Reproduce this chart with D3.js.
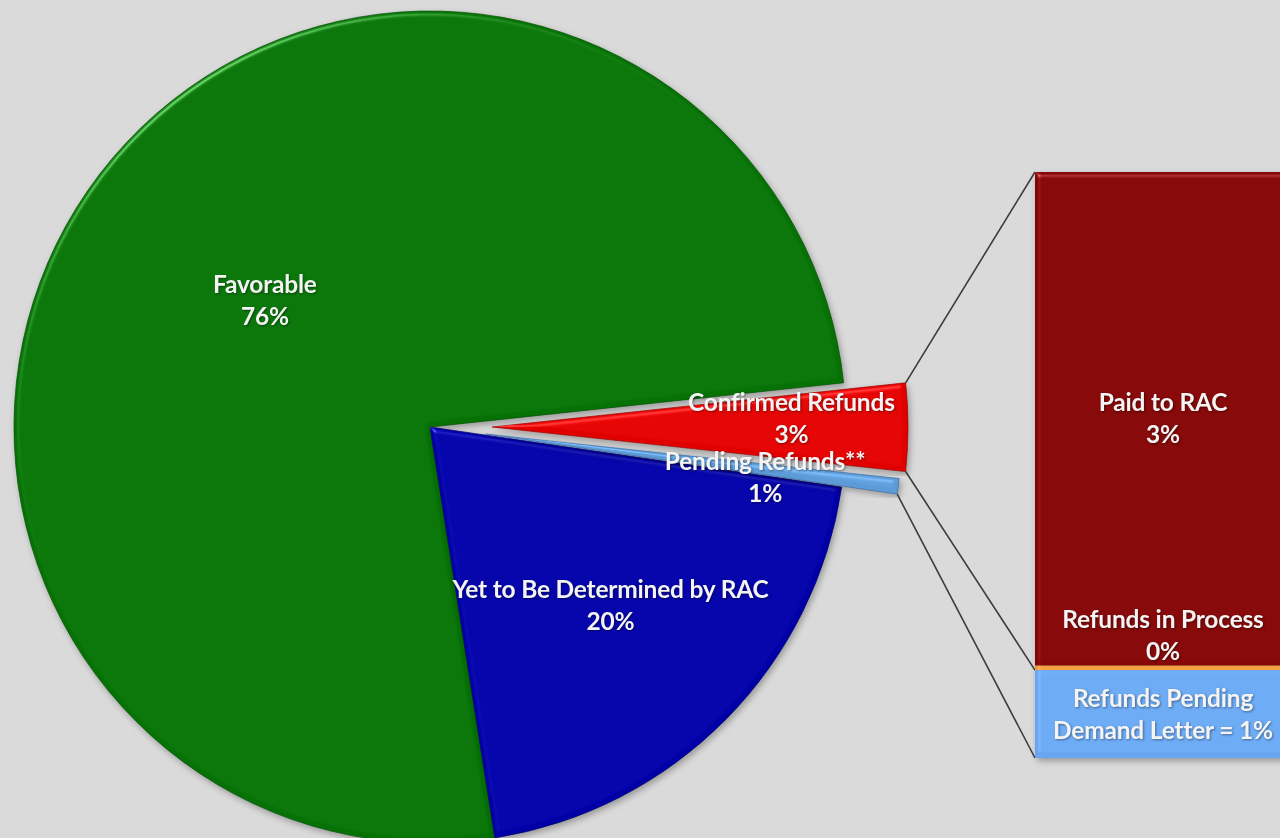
<!DOCTYPE html>
<html>
<head>
<meta charset="utf-8">
<script src="https://cdn.jsdelivr.net/npm/d3@7"></script>
<style>
  html, body { margin: 0; padding: 0; background: #dadada; }
  svg { display: block; }
  .lbl { font-family: Lato, "Open Sans", sans-serif; font-weight: 700; fill: #f4f4f4; }
</style>
</head>
<body>
<svg id="chart" width="1280" height="838"></svg>
<script>
// ---- data -------------------------------------------------------------
// Pie slices, clockwise starting at the exploded red wedge
const pieCategories = ["Confirmed Refunds", "Pending Refunds**", "Yet to Be Determined by RAC", "Favorable"];
const pieValues     = [3.4, 0.6, 20.2, 75.8];

// Breakdown bar of the two refund slices, top to bottom
const barCategories = ["Paid to RAC", "Refunds in Process", "Refunds Pending"];
const barValues     = [3.37, 0.03, 0.6];
const barLabelLines = [["Paid to RAC", "3%"], ["Refunds in Process", "0%"], ["Refunds Pending", "Demand Letter = 1%"]];

// ---- layout & style ---------------------------------------------------
const W = 1280, H = 838;
const cx = 430, cy = 427, R = 416;
const startDeg = 83.9;                       // d3 angle (from 12 o'clock) of first slice
const pieColors = ["#e00000", "#5c9ad8", "#0000a6", "#067206"];
const pieRims   = ["#a00000", "#3a6fa8", "#000070", "#035003"];
const explode   = [62, 56, 0, 0];
// label placement: fraction of radius and angular nudge (deg)
const labelFrac  = [0.72, 0.68, 0.61, 0.50];
const labelNudge = [-1.7, 1.6, 0, 0];

const barX0 = 1035, barX1 = 1292, barTop = 172, barBottom = 758;
const barColors = ["#820404", "#ea9a36", "#68a6f0"];
const lineGap = 32;
const fontSize = 24.5;

const svg = d3.select("#chart");
svg.append("rect").attr("width", W).attr("height", H).attr("fill", "#dadada");

// ---- filters ----------------------------------------------------------
const defs = svg.append("defs");
const bevel = defs.append("filter").attr("id", "bevel")
  .attr("color-interpolation-filters", "sRGB")
  .attr("x", "-5%").attr("y", "-5%").attr("width", "110%").attr("height", "110%");
bevel.append("feGaussianBlur").attr("in", "SourceAlpha").attr("stdDeviation", 2.5).attr("result", "blur");
const spec = bevel.append("feSpecularLighting").attr("in", "blur").attr("surfaceScale", 3)
  .attr("specularConstant", 0.5).attr("specularExponent", 35)
  .attr("lighting-color", "#ffffff").attr("result", "spec");
spec.append("feDistantLight").attr("azimuth", 235).attr("elevation", 45);
bevel.append("feComposite").attr("in", "spec").attr("in2", "SourceAlpha").attr("operator", "in").attr("result", "specOut");
bevel.append("feComposite").attr("in", "SourceGraphic").attr("in2", "specOut")
  .attr("operator", "arithmetic").attr("k1", 0).attr("k2", 1).attr("k3", 0.8).attr("k4", 0).attr("result", "lit");
bevel.append("feDropShadow").attr("in", "lit").attr("dx", 2).attr("dy", 3)
  .attr("stdDeviation", 3).attr("flood-color", "#000").attr("flood-opacity", 0.3);

const txtShadow = defs.append("filter").attr("id", "txtShadow")
  .attr("color-interpolation-filters", "sRGB")
  .attr("x", "-10%").attr("y", "-30%").attr("width", "120%").attr("height", "160%");
txtShadow.append("feDropShadow").attr("dx", 1).attr("dy", 1).attr("stdDeviation", 1)
  .attr("flood-color", "#000").attr("flood-opacity", 0.4);

// ---- pie --------------------------------------------------------------
const rad = Math.PI / 180;
const pie = d3.pie().sort(null).value(d => d)
  .startAngle(startDeg * rad).endAngle(startDeg * rad + 2 * Math.PI);
const arcs = pie(pieValues);
const arc = d3.arc().innerRadius(0).outerRadius(R);

function offset(a, i) {
  const mid = (a.startAngle + a.endAngle) / 2;
  return [explode[i] * Math.sin(mid), -explode[i] * Math.cos(mid)];
}
function polar(angle, r, i, a) {
  const [ox, oy] = offset(a, i);
  return [cx + ox + r * Math.sin(angle), cy + oy - r * Math.cos(angle)];
}

const pieG = svg.append("g");
// large slices first so the thin exploded wedges sit on top
const drawOrder = [3, 2, 0, 1];
drawOrder.forEach(i => {
  const a = arcs[i];
  const [ox, oy] = offset(a, i);
  pieG.append("path")
    .attr("d", arc(a))
    .attr("transform", `translate(${cx + ox},${cy + oy})`)
    .attr("fill", pieColors[i])
    .attr("stroke", pieRims[i])
    .attr("stroke-opacity", 0.7)
    .attr("stroke-width", 1)
    .attr("filter", "url(#bevel)");
});

// ---- bar of refunds ---------------------------------------------------
const barTotal = d3.sum(barValues);
const y = d3.scaleLinear().domain([0, barTotal]).range([barBottom, barTop]);
let cum = barTotal;
const segs = barValues.map((v, i) => {
  const s = { top: cum, bottom: cum - v, i };
  cum -= v;
  return s;
});

// connector lines from the exploded wedges to the bar
const redA = arcs[0], blueA = arcs[1];
const connectors = [
  [polar(redA.startAngle, R, 0, redA), [barX0, y(barTotal)]],
  [polar(redA.endAngle, R, 0, redA), [barX0, y(barValues[2])]],
  [polar(blueA.endAngle, R, 1, blueA), [barX0, y(0)]]
];
svg.append("g").selectAll("line").data(connectors).join("line")
  .attr("x1", d => d[0][0]).attr("y1", d => d[0][1])
  .attr("x2", d => d[1][0]).attr("y2", d => d[1][1])
  .attr("stroke", "#3c3c3c").attr("stroke-width", 1.6);

const barG = svg.append("g").attr("filter", "url(#bevel)");
barG.selectAll("rect").data(segs).join("rect")
  .attr("x", barX0).attr("width", barX1 - barX0)
  .attr("y", d => y(d.top)).attr("height", d => y(d.bottom) - y(d.top))
  .attr("fill", d => barColors[d.i]);

// ---- labels -----------------------------------------------------------
function twoLine(g, x, yc, lines) {
  const t = g.append("text").attr("class", "lbl").attr("text-anchor", "middle")
    .attr("font-size", fontSize).attr("letter-spacing", -0.2)
    .attr("filter", "url(#txtShadow)");
  lines.forEach((s, k) => {
    t.append("tspan").attr("x", x)
      .attr("y", yc + (k - (lines.length - 1) / 2) * lineGap)
      .attr("dy", "0.35em").text(s);
  });
}

const labelG = svg.append("g");
arcs.forEach((a, i) => {
  const mid = (a.startAngle + a.endAngle) / 2 + labelNudge[i] * rad;
  const [x, yy] = polar(mid, R * labelFrac[i], i, a);
  twoLine(labelG, x, yy, [pieCategories[i], Math.round(pieValues[i]) + "%"]);
});

const barMidX = 1163;
// the middle segment is a sliver, so its label sits just above it
const barLabelY = [
  (y(segs[0].top) + y(segs[0].bottom)) / 2,
  y(segs[1].top) - 30,
  (y(segs[2].top) + y(segs[2].bottom)) / 2
];
segs.forEach((s, i) => twoLine(labelG, barMidX, barLabelY[i], barLabelLines[i]));
</script>
</body>
</html>
